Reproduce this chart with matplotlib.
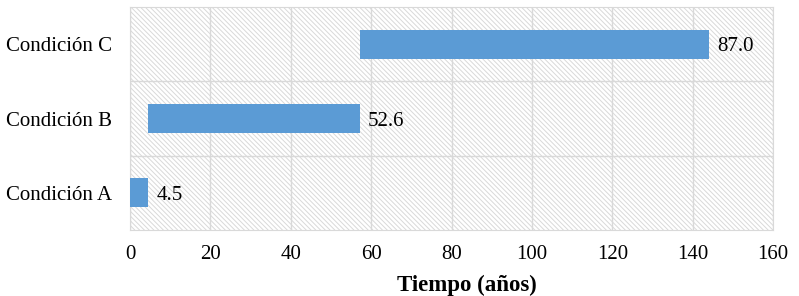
import numpy as np
import matplotlib.pyplot as plt

plt.rcParams['font.family'] = ['Liberation Serif', 'DejaVu Serif']
plt.rcParams['hatch.color'] = '#d9d9d9'
plt.rcParams['hatch.linewidth'] = 0.7

# Datos
categorias = ['Condición A', 'Condición B', 'Condición C']
duracion = [4.5, 52.6, 87.0]
inicio = np.concatenate([[0], np.cumsum(duracion)[:-1]])

fig = plt.figure(figsize=(7.99, 2.96), dpi=100)
ax = fig.add_axes([0.1627, 0.223, 0.805, 0.753])

# Fondo rayado
ax.add_patch(plt.Rectangle((0, 0), 1, 1, transform=ax.transAxes, facecolor='white',
                           hatch='\\\\\\\\\\\\\\', edgecolor='#d9d9d9', linewidth=0, zorder=0))

y = np.arange(len(categorias))
ax.barh(y, duracion, left=inicio, height=0.39, color='#5B9BD5', zorder=3)

for yi, x0, d in zip(y, inicio, duracion):
    ax.text(x0 + d + 2, yi, f'{d:.1f}', va='center_baseline', ha='left', fontsize=15, zorder=4)

ax.set_xlim(0, 160)
ax.set_ylim(-0.5, 2.5)
ax.set_xticks(np.arange(0, 161, 20))
ax.set_yticks(y)
ax.set_yticklabels(categorias)
ax.set_yticks([0.5, 1.5], minor=True)
ax.tick_params(axis='both', which='both', length=0, labelsize=15)
ax.tick_params(axis='x', pad=11)
ax.tick_params(axis='y', pad=13)
for lbl in ax.get_yticklabels():
    lbl.set_verticalalignment('center_baseline')
ax.grid(axis='x', which='major', color='#d9d9d9', linewidth=1, zorder=1)
ax.grid(axis='y', which='minor', color='#d9d9d9', linewidth=1, zorder=1)
for s in ax.spines.values():
    s.set_color('#d9d9d9')
ax.set_xlabel('Tiempo (años)', fontsize=16.5, fontweight='bold', labelpad=5)
ax.xaxis.set_label_coords(0.523, -0.2)
ax.xaxis.label.set_verticalalignment('top')

fig.savefig('out.png', dpi=100)
